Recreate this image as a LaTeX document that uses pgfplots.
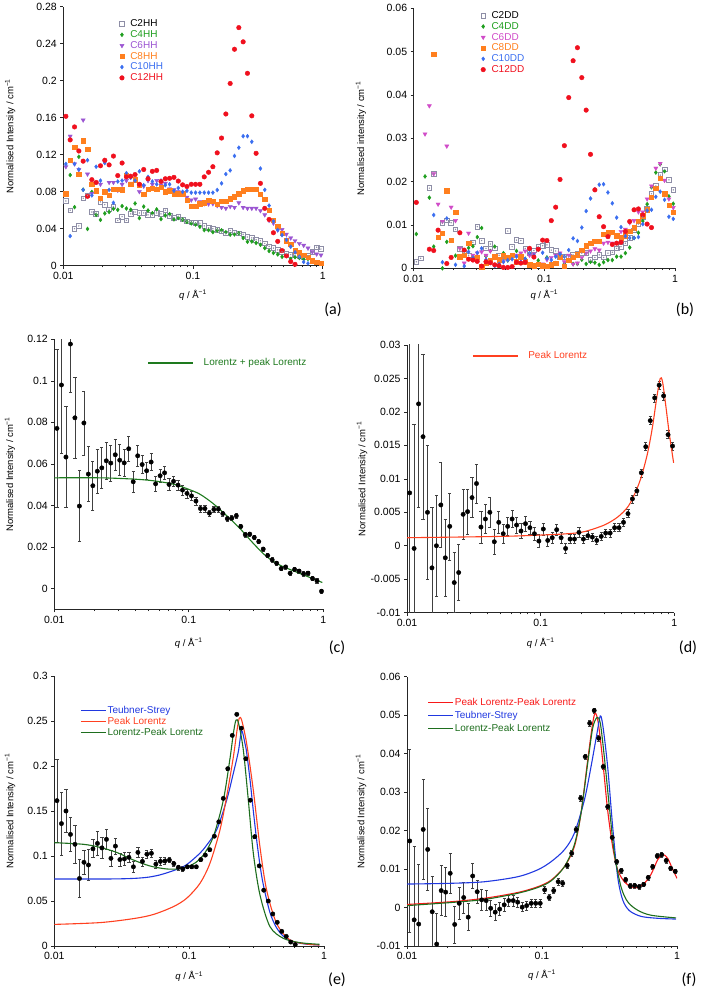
\documentclass[border=0pt]{standalone}
\usepackage{pgfplots}
\pgfplotsset{compat=1.18}
\usepackage{pgfplotstable}
\usepackage{fontspec}
\setmainfont{Liberation Sans}
\newfontfamily\carlito{Carlito}
\definecolor{cGrey}{HTML}{8E8EA6}
\definecolor{cGreen}{HTML}{1E9E1E}
\definecolor{cPurple}{HTML}{9B55D2}
\definecolor{cMag}{HTML}{D04CC8}
\definecolor{cOrange}{HTML}{FF7F1E}
\definecolor{cBlue}{HTML}{3A6EF0}
\definecolor{cRed}{HTML}{F0101E}
\definecolor{fBlue}{HTML}{2038E0}
\definecolor{fRed}{HTML}{FF4020}
\definecolor{fRedB}{HTML}{F81818}
\definecolor{fGreen}{HTML}{1E6E1E}
\definecolor{fGreenC}{HTML}{1E7A1E}
\definecolor{ebar}{HTML}{404040}

\pgfplotstableread{
q c2 c6 c8 c10
0.01047 .070 .107 .078 .110
0.01130 .060 .140 .114 .032
0.01221 .040 .110 .128 .110
0.01318 .043 .104 .099 .104
0.01423 .073 .1575 .135 .082
0.01537 .076 .099 .126 .114
0.01660 .058 .078 .088 .076
0.01792 .056 .090 .081 .107
0.01935 .069 .088 .073 .092
0.02089 .066 .112 .080 .111
0.02256 .061 .090 .076 .082
0.02436 .064 .090 .083 .068
0.02630 .049 .0815 .083 .091
0.02840 .053 .088 .082 .092
0.03066 .049 .092 .098 .100
0.03311 .056 .089 .088 .095
0.03575 .058 .094 .093 .092
0.03861 .057 .080 .087 .102
0.04169 .057 .086 .077 .087
0.04501 .055 .092 .083 .096
0.04860 .055 .088 .084 .091
0.05248 .057 .092 .083 .088
0.05667 .056 .087 .085 .092
0.06119 .060 .089 .080 .087
0.06607 .054 .083 .081 .088
0.07134 .052 .082 .078 .081
0.07703 .053 .080 .078 .084
0.08318 .050 .078 .078 .080
0.08981 .048 .074 .071 .081
0.09698 .047 .071 .0645 .079
0.1047 .046 .072 .064 .079
0.1130 .046 .069 .067 .079
0.1221 .043 .067 .068 .079
0.1318 .041 .0667 .071 .079
0.1423 .040 .067 .0696 .079
0.1537 .039 .065 .0667 .0818
0.1660 .037 .063 .0696 .089
0.1792 .035 .062 .0696 .099
0.1935 .038 .064 .0724 .103
0.2089 .036 .063 .0746 .1186
0.2256 .035 .068 .078 .1276
0.2436 .034 .063 .081 .140
0.2630 .031 .062 .0825 .140
0.2840 .030 .062 .083 .134
0.3066 .028 .062 .083 nan
0.3311 .027 .0595 .077 .105
0.3575 .024 .055 .0717 .082
0.3861 .021 .049 .060 .065
0.4169 .019 .046 .049 .048
0.4501 .017 .0386 .043 .0386
0.4860 .015 .039 .035 .033
0.5248 .013 .034 .027 .028
0.5667 .012 .030 .023 .0205
0.6119 .011 .027 .016 .0144
0.6607 .010 .024 .014 .0097
0.7134 .009 .022 .0115 .004
0.7703 .011 .019 .009 .0025
0.8318 .015 .015 .0054 nan
0.8981 .020 .0126 .0036 nan
0.9698 .018 .0115 .003 nan
}\tabA

\pgfplotstableread{
q c2 c6 c8 c10 c12
.01047 .0015 nan nan nan .0152
.01130 .0023 nan nan nan nan
.01221 nan .0310 nan nan nan
.01318 .0185 .0375 nan nan .0044
.01423 .0218 .0218 .0494 .0123 .0041
.01537 nan .0148 .0072 nan .0088
.01660 .0105 .0108 .0081 .0014 nan
.01792 .0111 .0282 .0179 .0115 .0011
.01935 .0105 .0141 .0065 nan .0025
.02089 .0090 .0110 .0129 .0008 nan
.02256 .0045 .0046 .0027 nan .0082
.02436 .0035 .0012 .0030 .0005 .0042
.02630 .0030 .0081 .0058 .0038 .0021
.02840 .0060 .0030 .0023 .0025 .0019
.03066 .0096 .0035 .0025 .0036 .0016
.03311 .0064 .0038 .0004 .0046 .0005
.03575 .0046 .0030 .0012 .0020 .0015
.03861 .0056 .0040 .0019 .0012 .0013
.04169 .0046 .0025 .0027 .0005 .0008
.04501 .0030 .0020 .0020 .0010 .0006
.04860 .0025 .0015 .0029 .0015 .0002
.05248 .0086 .0020 .0025 .0019 .0002
.05667 .0050 .0025 .0030 .0021 .0004
.06119 .0065 .0030 .0015 .0027 .0014
.06607 .0064 .0035 .0027 .0015 .0012
.07134 .0046 .0040 .0015 .0022 .0014
.07703 .0035 .0030 .0008 .0035 .0046
.08318 .0041 .0033 .0006 .0030 .0026
.08981 .0050 .0045 .0010 .0044 .0044
.09698 .0052 .0010 .0006 .0036 .0065
.1047 .0054 .0020 .0005 .0023 .0064
.1130 .0042 .0025 .0008 .0019 .0110
.1221 .0040 .0030 .0012 .0027 .0141
.1318 .0027 .0035 .0025 .0033 .0205
.1423 .0027 .0015 .0005 .0027 .0283
.1537 .0028 .0030 .0019 .0042 .0394
.1660 .0031 .0010 .0025 .0069 .0479
.1792 .0033 .0012 .0031 .0063 .0509
.1935 .0035 .0025 .0042 .0094 .0440
.2089 .0035 .0035 .0052 .0132 .0365
.2256 .0019 .0040 .0058 .0161 .0263
.2436 .0025 .0045 .0063 .0182 .0181
.2630 .0031 .0042 .0063 .0193 .0119
.2840 .0025 .0058 .0078 .0194 .0096
.3066 .0035 .0060 .0082 .0175 .0073
.3311 .0037 .0058 .0083 .0150 .0055
.3575 .0046 .0075 .0075 .0117 .0058
.3861 .0050 .0085 .0071 .0095 .0060
.4169 .0058 .0090 .0075 .0074 .0085
.4501 .0070 .0105 .0085 .0070 .0108
.4860 .0088 .0110 .0094 .0070 .0135
.5248 .0102 .0130 .0108 .0072 .0137
.5667 .0118 .0130 .0121 .0102 .0123
.6119 .0138 .0160 .0135 .0133 .0102
.6607 .0172 .0190 .0164 .0135 .0094
.7134 .0190 .0231 .0185 .0165 nan
.7703 .0215 .0242 .0208 .0177 nan
.8318 .0228 .0203 .0172 .0158 nan
.8981 .0204 .0160 .0145 .0119 nan
.9698 .0181 .0140 .0129 .0114 nan
}\tabB

\pgfplotstableread{
q y e
0.01047 .0771 .038
0.01130 .098 .033
0.01221 .0633 .0243
0.01318 .1177 .0233
0.01423 .0822 .0197
0.01537 .0397 .017
0.01660 .0797 .0154
0.01792 .0551 .0133
0.01935 .0495 .0118
0.02089 .0565 .0105
0.02256 .0581 .0097
0.02436 .0615 .009
0.02630 .0604 .0087
0.02840 .0644 .0075
0.03066 .0618 .0075
0.03311 .0605 .0065
0.03575 .0673 .006
0.03861 .0514 .0052
0.04169 .0639 .005
0.04501 .0597 .0044
0.04860 .0567 .004
0.05248 .0609 .0042
0.05667 .0504 .0035
0.06119 .0543 .0032
0.06607 .0557 .003
0.07134 .0501 .0028
0.07703 .0516 .0026
0.08318 .0498 .0025
0.08981 .0474 .0023
0.09698 .0458 .0022
0.1047 .0446 .002
0.1130 .0421 .002
0.1221 .0385 .0018
0.1318 .0385 .0017
0.1423 .0363 .0016
0.1537 .0381 .0015
0.1660 .0382 .0014
0.1792 .0361 .0013
0.1935 .0336 .0012
0.2089 .0339 .0012
0.2256 .035 .0012
0.2436 .0299 .0011
0.2630 .0259 .0011
0.2840 .0262 .001
0.3066 .0246 .001
0.3311 .0226 .001
0.3575 .019 .001
0.3861 .0159 .001
0.4169 .0138 .001
0.4501 .0122 .001
0.4860 .0096 .001
0.5248 .0104 .001
0.5667 .0074 .001
0.6119 .0092 .001
0.6607 .0084 .001
0.7134 .0071 .001
0.7703 .0074 .001
0.8318 .0048 .001
0.8981 .0037 .001
0.9698 -.0013 .001
}\tabC

\pgfplotstableread{
q y e
0.01047 .0079 .035
0.01130 -.0004 .0185
0.01221 .0212 .0155
0.01318 .0163 .0123
0.01423 .0050 .010
0.01537 -.0033 .009
0.01660 .0000 .0075
0.01792 .0061 .0063
0.01935 -.0018 .0058
0.02089 .0029 .005
0.02256 -.0055 .0045
0.02436 -.0040 .0042
0.02630 .0047 .0037
0.02840 .0051 .0034
0.03066 .0072 .003
0.03311 .0093 .0029
0.03575 .0028 .0024
0.03861 .0040 .0022
0.04169 .0050 .0022
0.04501 .0006 .0019
0.04860 .0035 .0016
0.05248 .0018 .0014
0.05667 .0029 .0014
0.06119 .0040 .0013
0.06607 .0031 .0012
0.07134 .0022 .0011
0.07703 .0033 .0011
0.08318 .0027 .001
0.08981 .0018 .001
0.09698 .0007 .001
0.1047 .0025 .0009
0.1130 .0008 .0009
0.1221 .0012 .0008
0.1318 .0024 .0008
0.1423 .0012 .0008
0.1537 -.0004 .0007
0.1660 .0010 .0007
0.1792 .0010 .0007
0.1935 .0020 .0007
0.2089 .0010 .0006
0.2256 .0015 .0006
0.2436 .0013 .0006
0.2630 .0008 .0006
0.2840 .0014 .0006
0.3066 .0019 .0006
0.3311 .0019 .0006
0.3575 .0027 .0006
0.3861 .0027 .0006
0.4169 .0035 .0006
0.4501 .0048 .0006
0.4860 .0070 .0006
0.5248 .0082 .0006
0.5667 .0109 .0006
0.6119 .0148 .0006
0.6607 .0187 .0006
0.7134 .0221 .0006
0.7703 .0240 .0006
0.8318 .0224 .0006
0.8981 .0166 .0006
0.9698 .0149 .0006
}\tabD

\pgfplotstableread{
q y e
0.01047 .1615 .046
0.01130 .136 .035
0.01221 .150 .024
0.01318 .124 .019
0.01423 .113 .021
0.01537 .075 .021
0.01660 .093 .013
0.01792 .090 .017
0.01935 .108 .010
0.02089 .114 .0135
0.02256 .109 .012
0.02436 .1185 .011
0.02630 .0974 .009
0.02840 .111 .009
0.03066 .096 .007
0.03311 .0967 .007
0.03575 .0985 .0055
0.03861 .088 .006
0.04169 .104 .006
0.04501 .094 .005
0.04860 .102 .0045
0.05248 .103 .0045
0.05667 .091 .0045
0.06119 .094 .004
0.06607 .0945 .0035
0.07134 .0955 .003
0.07703 .0915 .003
0.08318 .0874 .0028
0.08981 .0856 .0025
0.09698 .088 .0022
0.1047 .088 .002
0.1130 .088 .002
0.1221 .096 .0015
0.1318 .101 .0015
0.1423 .107 .0015
0.1537 .122 .0015
0.1660 .138 .0015
0.1792 .164 .0015
0.1935 .197 .0015
0.2089 .234 .0015
0.2256 .2574 .0015
0.2436 .242 .0015
0.2630 .208 .0015
0.2840 .162 .0015
0.3066 .1215 .0015
0.3311 .089 .001
0.3575 .062 .001
0.3861 .050 .001
0.4169 .0356 .001
0.4501 .0263 .001
0.4860 .0163 .001
0.5248 .0107 .001
0.5667 .0044 .001
0.6119 .0015 .001
}\tabE

\pgfplotstableread{
q y e
0.01047 .0173 .0237
0.01130 -.0032 .019
0.01221 -.0043 .0155
0.01318 .0203 .013
0.01423 .0151 .0107
0.01537 -.0011 .0091
0.01660 -.0095 .008
0.01792 .0044 .0065
0.01935 .0040 .0064
0.02089 .0089 .0052
0.02256 -.0044 .0048
0.02436 .0011 .0041
0.02630 .0026 .004
0.02840 -.0025 .0035
0.03066 .0082 .0032
0.03311 .0041 .003
0.03575 .0020 .0027
0.03861 .0018 .0026
0.04169 -.0002 .0022
0.04501 -.0012 .0021
0.04860 -.0004 .0017
0.05248 .0007 .0016
0.05667 .0018 .0015
0.06119 .0018 .0014
0.06607 .0014 .0013
0.07134 .0001 .0012
0.07703 .0005 .0012
0.08318 .0011 .0011
0.08981 .0011 .0011
0.09698 .0011 .001
0.1047 .0046 .0009
0.1130 .0026 .0008
0.1221 .0044 .0008
0.1318 .0067 .0008
0.1423 .0063 .0007
0.1537 .0109 .0007
0.1660 .0141 .0007
0.1792 .0203 .0007
0.1935 .0284 .0007
0.2089 .0392 .0007
0.2256 .0479 .0007
0.2436 .0512 .0007
0.2630 .0440 .0007
0.2840 .0366 .0007
0.3066 .0262 .0007
0.3311 .0182 .0007
0.3575 .0119 .0007
0.3861 .0096 .0007
0.4169 .0072 .0006
0.4501 .0056 .0006
0.4860 .0057 .0006
0.5248 .0054 .0006
0.5667 .0060 .0006
0.6119 .0078 .0006
0.6607 .0106 .0006
0.7134 .0134 .0006
0.7703 .0137 .0006
0.8318 .0122 .0006
0.8981 .0102 .0006
0.9698 .0094 .0006
}\tabF

\pgfplotsset{
  every axis/.append style={
    scale only axis, xmode=log, xmin=0.01, xmax=1,
    axis lines=left, axis line style={-, line width=0.7pt, black!85},
    tick align=outside, major tick length=3pt, minor tick length=1.8pt,
    tick style={black!85, line width=0.6pt},
    xtick={0.01,0.1,1}, xticklabels={0.01,0.1,1},
    scaled y ticks=false,
    ticklabel style={font=\fontsize{10.5}{11}\selectfont},
    label style={font=\fontsize{9.5}{11}\selectfont},
    yticklabel style={/pgf/number format/fixed, /pgf/number format/precision=3,
      /pgf/number format/assume math mode=true},
    xlabel={\textit{q} / Å\textsuperscript{−1}},
    legend cell align=left,
  },
  zzdat/.style={only marks, mark=*, mark size=2.2pt, black, forget plot,
    error bars/y dir=both, error bars/y explicit,
    error bars/error bar style={ebar, line width=0.7pt},
    error bars/error mark options={rotate=90, ebar, mark size=1.6pt, line width=0.6pt}},
  zzCtwo/.style={only marks, mark=square, mark size=2.3pt, mark options={draw=cGrey, line width=0.7pt}},
  zzCfour/.style={only marks, mark=diamond*, mark size=2pt, cGreen},
  zzCsix/.style={only marks, mark=triangle*, mark size=2.4pt, mark options={rotate=180}, #1},
  zzCeight/.style={only marks, mark=square*, mark size=2.2pt, cOrange},
  zzCten/.style={only marks, mark=diamond*, mark size=2pt, cBlue},
  zzCtwelve/.style={only marks, mark=*, mark size=2.3pt, cRed},
}

\begin{document}
\begin{tikzpicture}
\path[use as bounding box] (0pt,0pt) rectangle (702pt,992pt);

% (a)
\begin{axis}[
  at={(63.3pt,726.3pt)}, anchor=south west, width=259.4pt, height=259pt,
  ymin=0, ymax=0.28, ytick={0,0.04,0.08,0.12,0.16,0.2,0.24,0.28},
  ylabel={Normalised Intensity / cm\textsuperscript{−1}},
  xlabel style={at={(axis description cs:0.5,-0.113)}, anchor=center},
  ylabel style={at={(axis description cs:-0.205,0.5)}, anchor=center},
  legend style={draw=none, fill=none, at={(axis description cs:0.205,0.962)}, anchor=north west,
    font=\fontsize{10}{10}\selectfont, nodes={inner sep=1pt}, row sep=0.3pt, column sep=5pt}]
\addplot[zzCtwo] table[x=q,y=c2]{\tabA}; \addlegendentry{C2HH}
\addplot[zzCfour] table[x=q,y=y]{\tabC}; \addlegendentry{\textcolor{cGreen}{C4HH}}
\addplot[zzCsix=cPurple] table[x=q,y=c6]{\tabA}; \addlegendentry{\textcolor{cPurple}{C6HH}}
\addplot[zzCeight] table[x=q,y=c8]{\tabA}; \addlegendentry{\textcolor{cOrange}{C8HH}}
\addplot[zzCten] table[x=q,y=c10]{\tabA}; \addlegendentry{\textcolor{cBlue}{C10HH}}
\addplot[zzCtwelve] table[x=q,y=y]{\tabE}; \addlegendentry{\textcolor{cRed}{C12HH}}
\addplot[only marks, mark=*, mark size=0.45pt, cGrey, forget plot] table[x=q,y=c2]{\tabA};
\end{axis}

% (b)
\begin{axis}[
  at={(413.7pt,723.7pt)}, anchor=south west, width=261.3pt, height=260pt,
  ymin=0, ymax=0.06, ytick={0,0.01,0.02,0.03,0.04,0.05,0.06},
  ylabel={Normalised intensity / cm\textsuperscript{−1}},
  xlabel style={at={(axis description cs:0.5,-0.103)}, anchor=center},
  ylabel style={at={(axis description cs:-0.202,0.5)}, anchor=center},
  legend style={draw=none, fill=none, at={(axis description cs:0.245,1.0)}, anchor=north west,
    font=\fontsize{10}{10}\selectfont, nodes={inner sep=1pt}, row sep=0.3pt, column sep=5pt}]
\addplot[zzCtwo] table[x=q,y=c2]{\tabB}; \addlegendentry{C2DD}
\addplot[zzCfour] table[x=q,y=y]{\tabD}; \addlegendentry{\textcolor{cGreen}{C4DD}}
\addplot[zzCsix=cMag] table[x=q,y=c6]{\tabB}; \addlegendentry{\textcolor{cMag}{C6DD}}
\addplot[zzCeight] table[x=q,y=c8]{\tabB}; \addlegendentry{\textcolor{cOrange}{C8DD}}
\addplot[zzCten] table[x=q,y=c10]{\tabB}; \addlegendentry{\textcolor{cBlue}{C10DD}}
\addplot[zzCtwelve] table[x=q,y=c12]{\tabB}; \addlegendentry{\textcolor{cRed}{C12DD}}
\addplot[only marks, mark=*, mark size=0.45pt, cGrey, forget plot] table[x=q,y=c2]{\tabB};
\end{axis}

% (c)
\begin{axis}[
  at={(54.3pt,382.7pt)}, anchor=south west, width=269pt, height=270pt,
  ymin=-0.01, ymax=0.12, ytick={0,0.02,0.04,0.06,0.08,0.1,0.12},
  ylabel={Normalised Intensity / cm\textsuperscript{−1}},
  xlabel style={at={(axis description cs:0.5,-0.126)}, anchor=center},
  ylabel style={at={(axis description cs:-0.165,0.5)}, anchor=center},
  legend image code/.code={\draw[#1] (0pt,0pt) -- (45pt,0pt);},
  legend style={draw=none, fill=none, at={(axis description cs:0.335,0.912)}, anchor=west,
    font=\fontsize{10}{11}\selectfont, column sep=8pt}]
\addplot[zzdat] table[x=q,y=y,y error=e]{\tabC};
\addplot[fGreenC, line width=1.1pt, smooth] coordinates {
(0.01,0.0533) (0.02182,0.0533) (0.03854,0.0527) (0.05424,0.0519) (0.0763,0.0503)
(0.0958,0.0482) (0.1203,0.0455) (0.1511,0.0410) (0.1897,0.0353) (0.2400,0.0289)
(0.3020,0.0217) (0.3800,0.0153) (0.4775,0.0112) (0.6005,0.0085) (0.7549,0.0059) (0.9835,0.0029)};
\addlegendentry{\textcolor{fGreenC}{Lorentz + peak Lorentz}}
\end{axis}

% (d)
\begin{axis}[
  at={(407pt,379.3pt)}, anchor=south west, width=267.3pt, height=267.7pt,
  ymin=-0.01, ymax=0.03, ytick={-0.01,-0.005,0,0.005,0.01,0.015,0.02,0.025,0.03},
  ylabel={Normalised Intensity / cm\textsuperscript{−1}},
  xlabel style={at={(axis description cs:0.5,-0.114)}, anchor=center},
  ylabel style={at={(axis description cs:-0.168,0.5)}, anchor=center},
  legend image code/.code={\draw[#1] (0pt,0pt) -- (45pt,0pt);},
  legend style={draw=none, fill=none, at={(axis description cs:0.232,0.959)}, anchor=west,
    font=\fontsize{10}{11}\selectfont, column sep=8pt}]
\addplot[zzdat] table[x=q,y=y,y error=e]{\tabD};
\addplot[fRed, line width=1.1pt, smooth, tension=0.5] coordinates {
(0.01,0.0012) (0.05,0.0014) (0.1,0.0016) (0.159,0.0018) (0.211,0.0021) (0.2994,0.0031)
(0.3775,0.0043) (0.4487,0.0058) (0.5017,0.0076) (0.5623,0.0101) (0.6302,0.0138)
(0.6872,0.0178) (0.7413,0.0223) (0.785,0.0250) (0.8166,0.0245) (0.8653,0.0208)
(0.9165,0.0168) (0.9884,0.0124)};
\addlegendentry{\textcolor{fRed}{Peak Lorentz}}
\end{axis}

% (e)
\begin{axis}[
  at={(54.3pt,46pt)}, anchor=south west, width=269.7pt, height=270pt,
  ymin=0, ymax=0.3, ytick={0,0.05,0.1,0.15,0.2,0.25,0.3},
  ylabel={Normalised Intensity / cm\textsuperscript{−1}},
  xlabel style={at={(axis description cs:0.5,-0.114)}, anchor=center},
  ylabel style={at={(axis description cs:-0.164,0.5)}, anchor=center},
  legend image code/.code={\draw[#1] (0pt,0pt) -- (25pt,0pt);},
  legend style={draw=none, fill=none, at={(axis description cs:0.085,0.9)}, anchor=north west,
    font=\fontsize{10}{10}\selectfont, nodes={inner sep=1pt}, row sep=0.3pt}]
\addplot[zzdat] table[x=q,y=y,y error=e]{\tabE};
\addplot[fBlue, line width=1.1pt, smooth, tension=0.5] coordinates {
(0.01,0.0744) (0.02,0.0744) (0.03,0.0746) (0.04,0.0752) (0.05,0.0765) (0.06,0.0788)
(0.07,0.0818) (0.08,0.0848) (0.09,0.0880) (0.1,0.0925) (0.1200,0.1030)
(0.1348,0.1120) (0.1600,0.1290) (0.1897,0.1620) (0.2127,0.1920)
(0.2316,0.2160) (0.2451,0.2390) (0.2594,0.2250) (0.2669,0.2150) (0.2826,0.1850)
(0.2992,0.1500) (0.3166,0.1180) (0.3352,0.0900) (0.3549,0.0680) (0.3977,0.0370)
(0.4457,0.0200) (0.4995,0.0110) (0.5924,0.0048) (0.7436,0.0020) (0.9235,0.0011)};
\addlegendentry{\textcolor{fBlue}{Teubner-Strey}}
\addplot[fRed, line width=1.1pt, smooth, tension=0.5] coordinates {
(0.01,0.0240) (0.02182,0.0260) (0.03854,0.0304) (0.05424,0.0350) (0.0763,0.0437)
(0.0958,0.0530) (0.1203,0.0696) (0.1427,0.0920) (0.1693,0.1290) (0.1897,0.1660)
(0.2127,0.2100) (0.2276,0.2420) (0.2355,0.2530) (0.2451,0.2510) (0.2669,0.2250)
(0.2992,0.1730) (0.3352,0.1100) (0.3756,0.0620) (0.4457,0.0250) (0.5596,0.0067)
(0.7436,0.0022) (0.9235,0.0011)};
\addlegendentry{\textcolor{fRed}{Peak Lorentz}}
\addplot[fGreen, line width=1.1pt, smooth, tension=0.5] coordinates {
(0.01,0.1148) (0.01641,0.1130) (0.02182,0.1096) (0.0290,0.1040) (0.03854,0.0956)
(0.05123,0.0889) (0.0681,0.0856) (0.0855,0.0860) (0.1074,0.0911) (0.1274,0.1010)
(0.1511,0.1215) (0.1793,0.1620) (0.2009,0.2085) (0.2127,0.2360) (0.2225,0.2510)
(0.2329,0.2470) (0.2521,0.2180) (0.2747,0.1620) (0.2992,0.1030) (0.3352,0.0567)
(0.3977,0.0215) (0.4995,0.0085) (0.6637,0.0037) (0.9235,0.0019)};
\addlegendentry{\textcolor{fGreen}{Lorentz-Peak Lorentz}}
\end{axis}

% (f)
\begin{axis}[
  at={(407pt,46pt)}, anchor=south west, width=270pt, height=269.3pt,
  ymin=-0.01, ymax=0.06, ytick={-0.01,0,0.01,0.02,0.03,0.04,0.05,0.06},
  ylabel={Normalised Intensity / cm\textsuperscript{−1}},
  xlabel style={at={(axis description cs:0.5,-0.108)}, anchor=center},
  ylabel style={at={(axis description cs:-0.17,0.5)}, anchor=center},
  legend image code/.code={\draw[#1] (0pt,0pt) -- (25pt,0pt);},
  legend style={draw=none, fill=none, at={(axis description cs:0.065,0.932)}, anchor=north west,
    font=\fontsize{10}{10}\selectfont, nodes={inner sep=1pt}, row sep=2.3pt}]
\addplot[zzdat] table[x=q,y=y,y error=e]{\tabF};
\addplot[fRedB, line width=1.1pt, smooth, tension=0.5] coordinates {
(0.01,0.0008) (0.02118,0.0015) (0.0374,0.0024) (0.066,0.0039) (0.0929,0.0054)
(0.1166,0.0071) (0.1464,0.0106) (0.1736,0.0158) (0.1945,0.0245) (0.218,0.0383)
(0.2373,0.0479) (0.2484,0.0505) (0.2614,0.0479) (0.2814,0.0383) (0.3064,0.0253)
(0.3338,0.0158) (0.3635,0.0098) (0.4073,0.0067) (0.4563,0.0054) (0.5113,0.0052)
(0.5728,0.0063) (0.6418,0.0086) (0.719,0.0124) (0.783,0.0138) (0.8528,0.0128)
(0.9288,0.0099) (1.0,0.0076)};
\addlegendentry{\textcolor{fRedB}{Peak Lorentz-Peak Lorentz}}
\addplot[fBlue, line width=1.1pt, smooth, tension=0.5] coordinates {
(0.01,0.0061) (0.02118,0.0063) (0.0374,0.0067) (0.066,0.0080) (0.0929,0.0098)
(0.1166,0.0119) (0.1464,0.0150) (0.1736,0.0193) (0.2059,0.0279) (0.2307,0.0366)
(0.2555,0.0453) (0.2704,0.0498) (0.2830,0.0470) (0.3064,0.0366) (0.3338,0.0210)
(0.3635,0.0080) (0.3959,0.0020) (0.4435,-0.0008) (0.5412,-0.0023) (0.719,-0.0028)
(0.9831,-0.0030)};
\addlegendentry{\textcolor{fBlue}{Teubner-Strey}}
\addplot[fGreen, line width=1.1pt, smooth, tension=0.5] coordinates {
(0.01,0.0005) (0.02118,0.0013) (0.0374,0.0021) (0.066,0.0037) (0.0929,0.0052)
(0.1166,0.0069) (0.1464,0.0106) (0.1736,0.0163) (0.1945,0.0245) (0.218,0.0375)
(0.2373,0.0466) (0.2555,0.0494) (0.2704,0.0479) (0.2894,0.0392) (0.3153,0.0262)
(0.3434,0.0141) (0.3848,0.0054) (0.4311,0.0015) (0.5113,-0.0007) (0.6418,-0.0020)
(0.9831,-0.0027)};
\addlegendentry{\textcolor{fGreen}{Lorentz-Peak Lorentz}}
\end{axis}

\node[font=\carlito\fontsize{16}{16}\selectfont] at (333pt,682pt) {(a)};
\node[font=\carlito\fontsize{16}{16}\selectfont] at (685pt,682pt) {(b)};
\node[font=\carlito\fontsize{16}{16}\selectfont] at (337pt,344pt) {(c)};
\node[font=\carlito\fontsize{16}{16}\selectfont] at (688pt,344pt) {(d)};
\node[font=\carlito\fontsize{16}{16}\selectfont] at (337pt,12pt) {(e)};
\node[font=\carlito\fontsize{16}{16}\selectfont] at (689pt,12pt) {(f)};
\end{tikzpicture}
\end{document}
